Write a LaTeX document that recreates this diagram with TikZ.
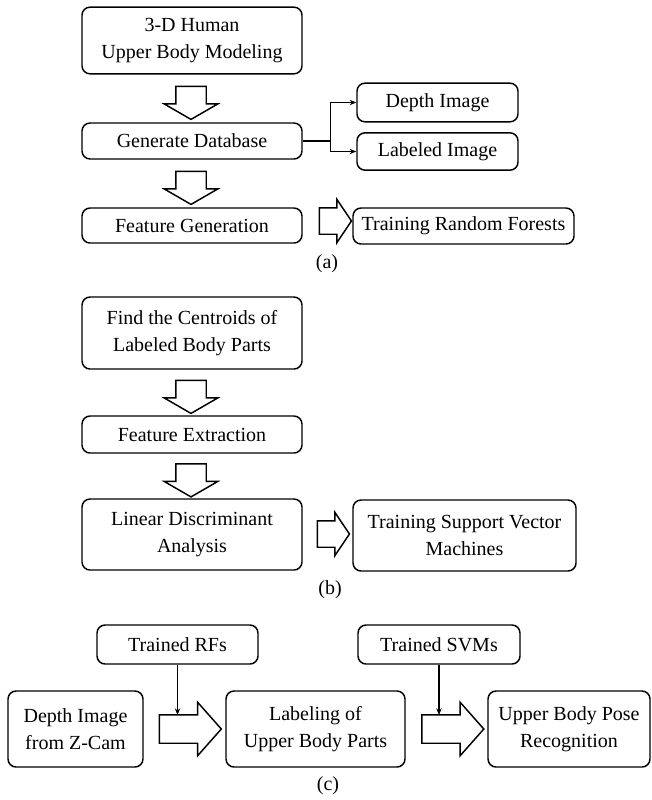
\documentclass[tikz,border=0pt]{standalone}
\usepackage{fontspec}
\setmainfont{Liberation Serif}
\usepackage{tikz}
\usetikzlibrary{shapes.arrows, arrows.meta, positioning}

\begin{document}
\begin{tikzpicture}[x=0.75pt, y=-0.75pt,
    stage/.style={rectangle, rounded corners=6pt, draw, line width=1.1pt, align=center, inner sep=0pt, font=\fontsize{15}{20}\selectfont},
    downflow/.style={single arrow, draw, line width=1.1pt, rotate=-90, inner xsep=0pt, inner ysep=10.875pt, minimum height=24.75pt, single arrow head extend=8.625pt, single arrow tip angle=120},
    sideflow/.style={single arrow, draw, line width=1.1pt, inner xsep=0pt, inner ysep=9.375pt, minimum height=24pt, single arrow head extend=6.375pt, single arrow tip angle=112},
    bigflow/.style={single arrow, draw, line width=1.1pt, inner xsep=0pt, inner ysep=10.125pt, minimum height=46.5pt, single arrow head extend=9.375pt, single arrow tip angle=97},
    link/.style={-{Stealth[length=5pt, width=4pt]}, line width=0.9pt},
    caption/.style={font=\fontsize{15}{18}\selectfont}
]
\useasboundingbox (0,0) rectangle (651,800);

% (a) database generation and random forests
\node[stage, minimum width=165pt, minimum height=50pt] (model) at (192,40.5) {3-D Human\\Upper Body Modeling};
\node[downflow] (ga1) at (191,98.5) {};
\node[stage, minimum width=165pt, minimum height=27pt] (gendb) at (192,141) {Generate Database};
\node[stage, minimum width=120.75pt, minimum height=29pt] (depth) at (437.5,102.5) {Depth Image};
\node[stage, minimum width=120.75pt, minimum height=28pt] (labeled) at (437.5,151.5) {Labeled Image};
\node[downflow] (ga2) at (191,183.5) {};
\node[stage, minimum width=165pt, minimum height=26.25pt] (featgen) at (192,225.5) {Feature Generation};
\node[sideflow] (ga3) at (331,221) {};
\node[stage, minimum width=165.75pt, minimum height=27pt] (trainrf) at (463.5,226) {Training Random Forests};
\node[caption] (capa) at (327,264) {(a)};

\draw[link] (gendb.east) -- ++(28,0) coordinate (split) |- (depth.west);
\draw[link] (split) |- (labeled.west);

% (b) feature extraction and SVMs
\node[stage, minimum width=165pt, minimum height=54pt] (centroid) at (192,333) {Find the Centroids of\\Labeled Body Parts};
\node[downflow] (gb1) at (191,392.5) {};
\node[stage, minimum width=165pt, minimum height=27.75pt] (featext) at (192,434.5) {Feature Extraction};
\node[downflow] (gb2) at (191,476) {};
\node[stage, minimum width=165pt, minimum height=53.25pt] (lda) at (192,534.5) {Linear Discriminant\\Analysis};
\node[sideflow] (gb3) at (329,534) {};
\node[stage, minimum width=167.25pt, minimum height=53.25pt] (trainsvm) at (464.5,535.5) {Training Support Vector\\Machines};
\node[caption] (capb) at (330,590) {(b)};

% (c) recognition
\node[stage, minimum width=120.75pt, minimum height=29.25pt] (trf) at (177.5,644.5) {Trained RFs};
\node[stage, minimum width=121.5pt, minimum height=29.25pt] (tsvm) at (439,644.5) {Trained SVMs};
\node[stage, minimum width=101.25pt, minimum height=57pt] (zcam) at (75.5,729) {Depth Image\\from Z-Cam};
\node[bigflow] (gc1) at (184,729) {};
\node[stage, minimum width=134.25pt, minimum height=57pt] (labeling) at (315.5,729) {Labeling of\\Upper Body Parts};
\node[bigflow] (gc2) at (446.5,729) {};
\node[stage, minimum width=121.5pt, minimum height=57pt] (ubpr) at (569,729) {Upper Body Pose\\Recognition};
\node[caption] (capc) at (328,786) {(c)};

\coordinate (rfin) at (177.5,715);
\coordinate (svmin) at (439,715);
\draw[link] (trf.south) -- (rfin);
\draw[link] (tsvm.south) -- (svmin);
\end{tikzpicture}
\end{document}
